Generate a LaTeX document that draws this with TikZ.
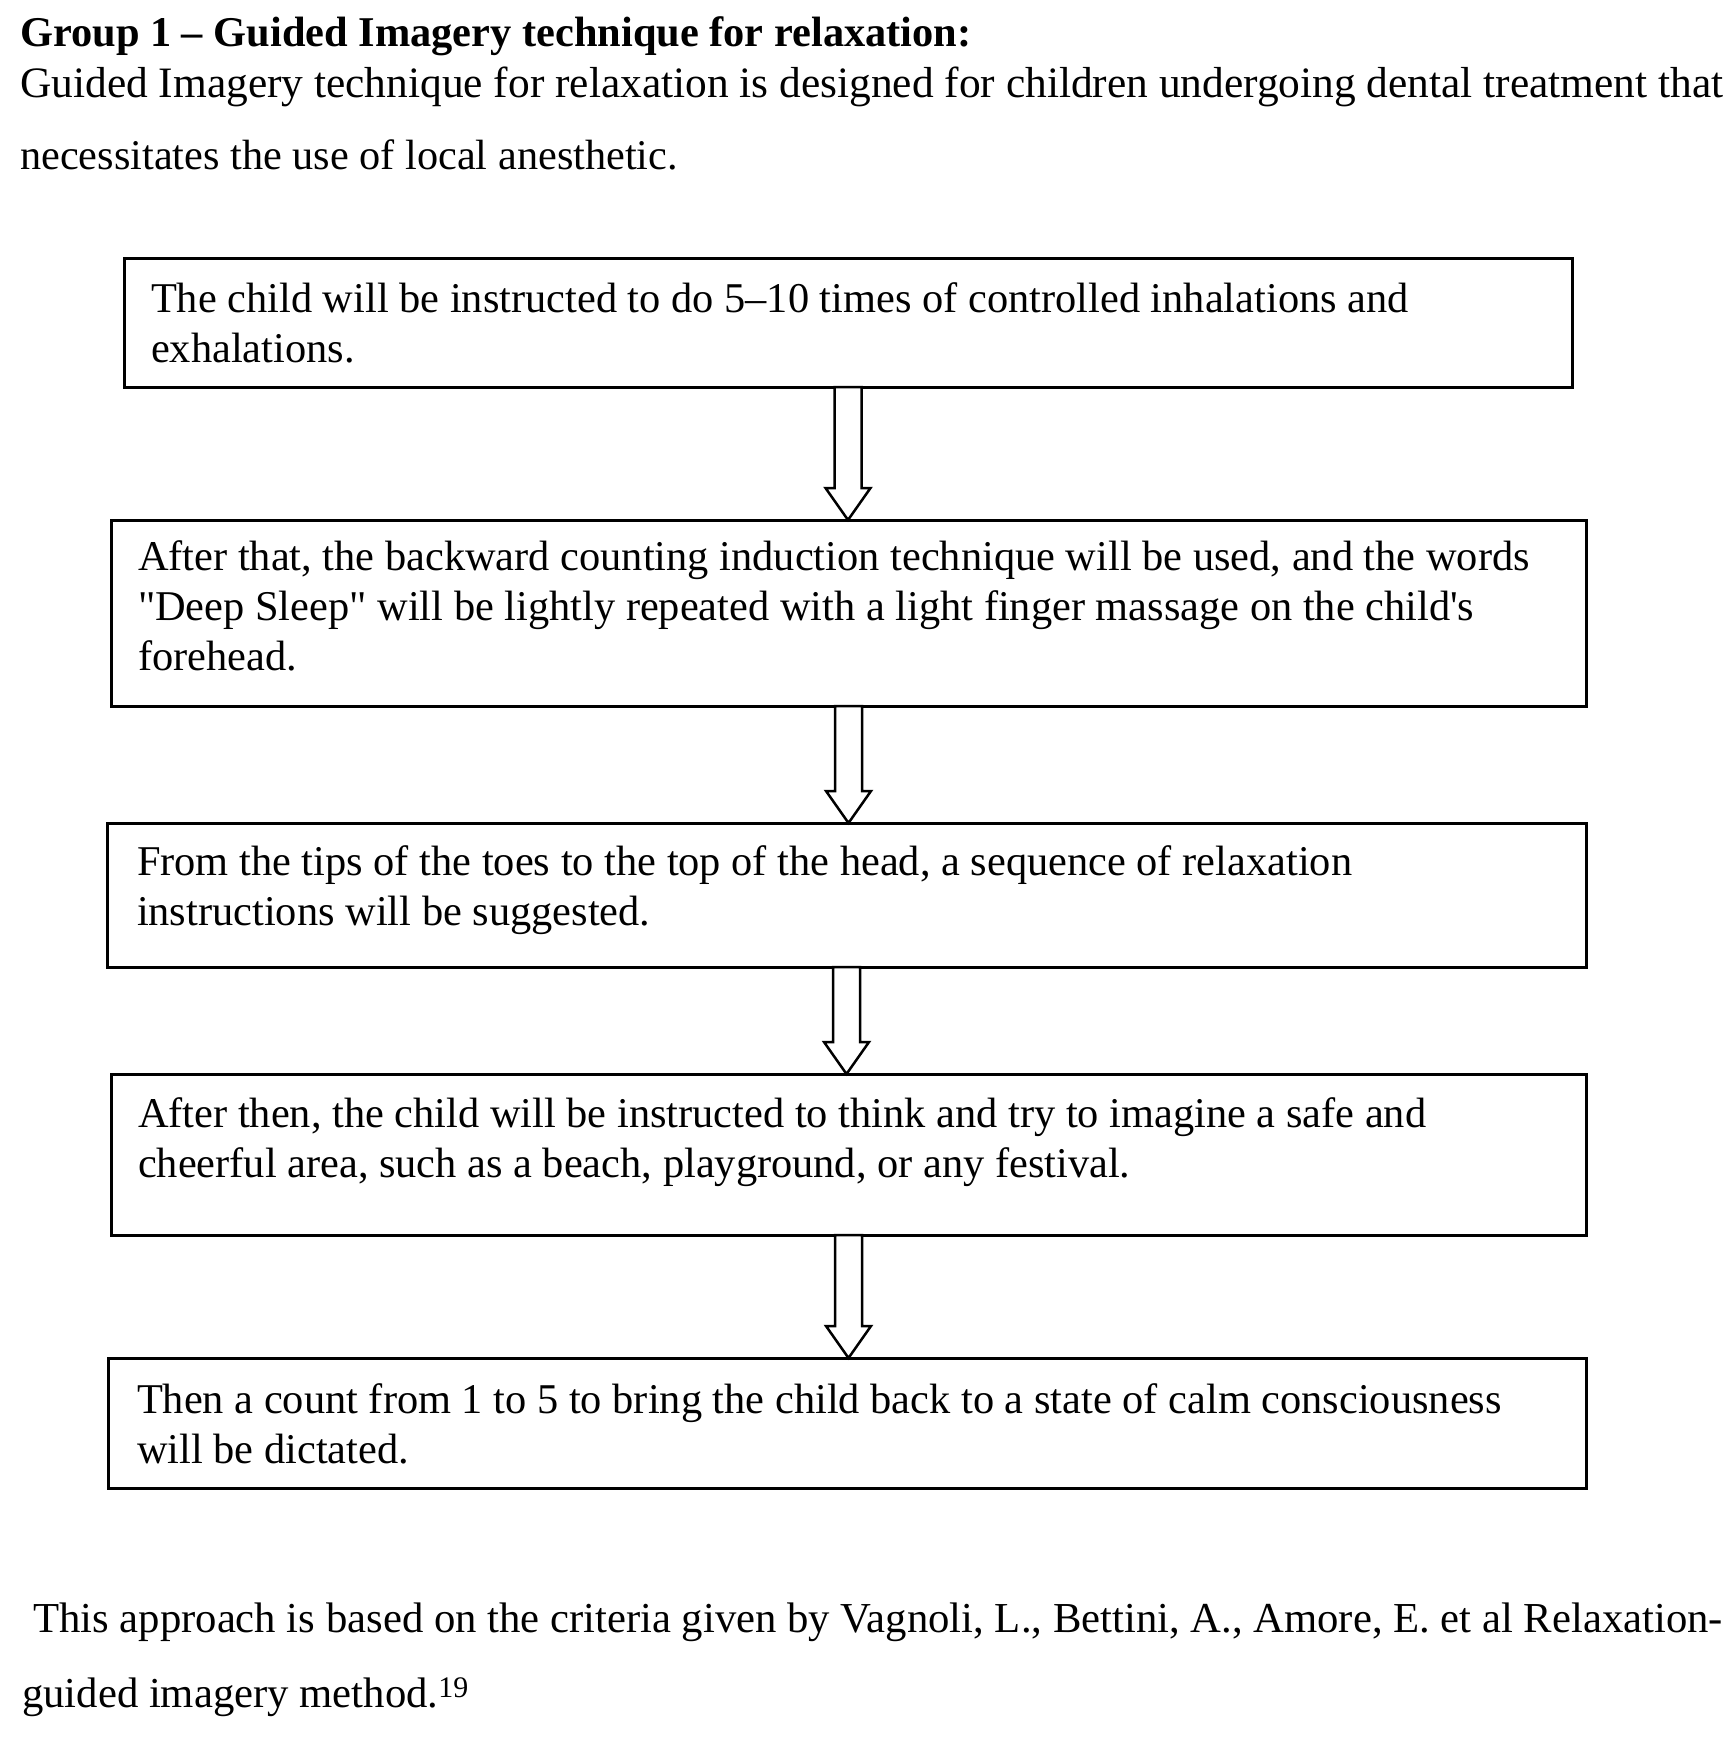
\documentclass[tikz,border=0pt]{standalone}
\usepackage{fontspec}
\setmainfont{Liberation Serif}
\usetikzlibrary{calc}

% block arrow from the bottom of one step to the top of the next
\newcommand\steparrow[2]{%
  \draw[step arrow] let \p1=(#1.south), \p2=(#2.north) in
    (\x1-13.5pt,\y1) -- (\x1-13.5pt,\y2+32pt) -- (\x1-22.5pt,\y2+32pt)
    -- (\x1,\y2) -- (\x1+22.5pt,\y2+32pt) -- (\x1+13.5pt,\y2+32pt)
    -- (\x1+13.5pt,\y1) -- cycle;}

\begin{document}
\begin{tikzpicture}[x=1pt,y=-1pt]
    % Styles
    \tikzset{stepbox/.style={draw, line width=3pt, rectangle, anchor=north west,
        inner xsep=27pt, inner ysep=0pt, outer sep=0pt, align=flush left,
        font=\fontsize{42.4pt}{50pt}\selectfont},
      step arrow/.style={draw, line width=2.5pt, fill=white, line join=miter},
      plain text/.style={anchor=base west, inner sep=0pt,
        font=\fontsize{43pt}{50pt}\selectfont}}

    \useasboundingbox (0,0) rectangle (1733,1739);

    % --- Heading ---
    \node[plain text, font=\fontsize{42.4pt}{50pt}\selectfont\bfseries] (title) at (20,47)
      {Group 1 -- Guided Imagery technique for relaxation:};
    \node[plain text, font=\fontsize{43.4pt}{50pt}\selectfont] (intro1) at (20,98)
      {Guided Imagery technique for relaxation is designed for children undergoing dental treatment that};
    \node[plain text, font=\fontsize{42.3pt}{50pt}\selectfont] (intro2) at (20,170)
      {necessitates the use of local anesthetic.};

    % --- Steps ---
    \node[stepbox, text width=1394pt, text height=54pt, text depth=75pt] (s1) at (124,258)
      {The child will be instructed to do 5--10 times of controlled inhalations and\\exhalations.};
    \node[stepbox, text width=1421pt, text height=50pt, text depth=136pt] (s2) at (111,520)
      {After that, the backward counting induction technique will be used, and the words\\
       \textquotedbl Deep Sleep\textquotedbl{} will be lightly repeated with a light finger massage on the child\textquotesingle s\\forehead.};
    \node[stepbox, inner xsep=30pt, text width=1419pt, text height=52pt, text depth=92pt] (s3) at (107,823)
      {From the tips of the toes to the top of the head, a sequence of relaxation\\
       instructions will be suggested.};
    \node[stepbox, text width=1421pt, text height=53pt, text depth=108pt] (s4) at (111,1074)
      {After then, the child will be instructed to think and try to imagine a safe and\\
       cheerful area, such as a beach, playground, or any festival.};
    \node[stepbox, inner xsep=29pt, text width=1420pt, text height=55pt, text depth=75pt] (s5) at (108,1358)
      {Then a count from 1 to 5 to bring the child back to a state of calm consciousness\\
       will be dictated.};

    % Arrows between steps
    \steparrow{s1}{s2}
    \steparrow{s2}{s3}
    \steparrow{s3}{s4}
    \steparrow{s4}{s5}

    % --- Source note ---
    \node[plain text, font=\fontsize{42.7pt}{50pt}\selectfont] (note1) at (33,1632)
      {This approach is based on the criteria given by Vagnoli, L., Bettini, A., Amore, E. et al Relaxation-};
    \node[plain text, font=\fontsize{42.7pt}{50pt}\selectfont] (note2) at (22,1707)
      {guided imagery method.\textsuperscript{19}};

  \end{tikzpicture}
\end{document}
